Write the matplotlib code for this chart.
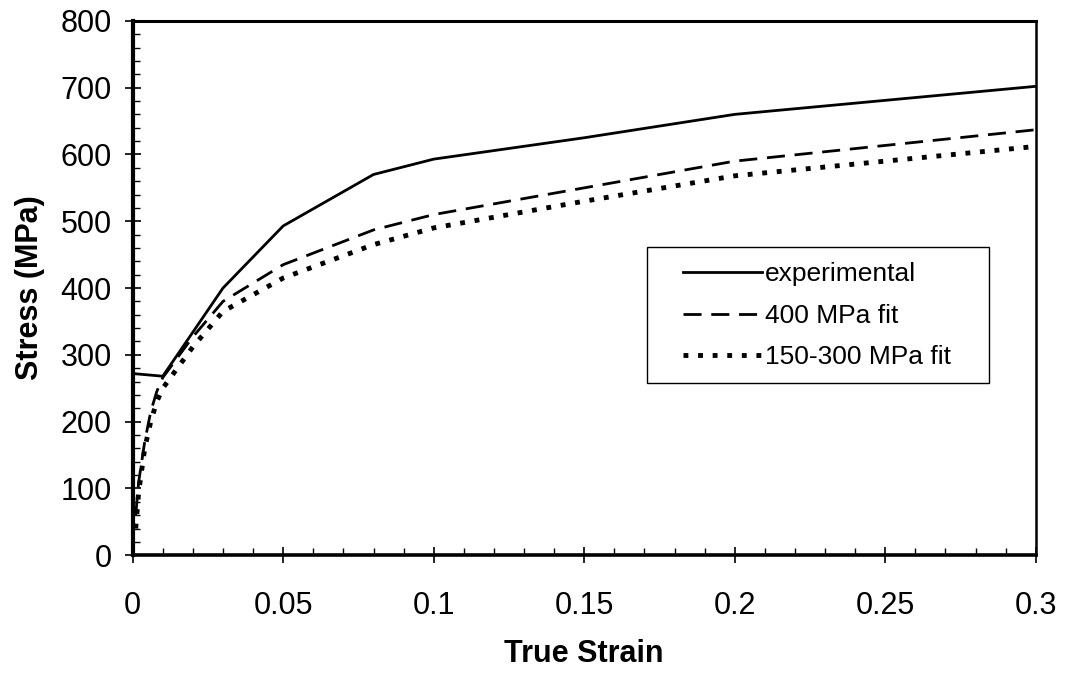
import numpy as np
import matplotlib.pyplot as plt
from matplotlib.patches import Rectangle
from matplotlib.ticker import MultipleLocator

# true strain / stress (MPa) for the measured curve and the two fits
strain_exp = [0.0, 0.01, 0.03, 0.05, 0.08, 0.1, 0.15, 0.2, 0.3]
stress_exp = [272, 268, 400, 493, 570, 593, 625, 660, 702]

strain_400 = [0.001, 0.002, 0.004, 0.006, 0.008, 0.01, 0.02, 0.03, 0.05, 0.08, 0.1, 0.15, 0.2, 0.3]
stress_400 = [60, 110, 170, 215, 245, 266, 327, 380, 435, 487, 510, 550, 590, 637]

strain_fit = [0.001, 0.002, 0.004, 0.006, 0.008, 0.01, 0.02, 0.03, 0.05, 0.08, 0.1, 0.15, 0.2, 0.3]
stress_fit = [40, 95, 160, 200, 230, 250, 312, 365, 415, 465, 490, 530, 568, 612]

x_ticks = [0, 0.05, 0.1, 0.15, 0.2, 0.25, 0.3]
x_labels = ['0', '0.05', '0.1', '0.15', '0.2', '0.25', '0.3']

plt.rcParams['font.family'] = ['Liberation Sans', 'DejaVu Sans']

fig = plt.figure(figsize=(10.7, 6.73), dpi=100)
ax = fig.add_axes([0.124, 0.175, 0.844, 0.794])

ax.plot(strain_exp, stress_exp, color='black', lw=2.0, label='experimental')
ax.plot(strain_400, stress_400, color='black', lw=2.0, dashes=(6.5, 3.5), label='400 MPa fit')
ax.plot(strain_fit, stress_fit, color='black', lw=3.5, dashes=(1.0, 2.0), label='150-300 MPa fit')

ax.set_xlim(0, 0.3)
ax.set_ylim(0, 800)
ax.set_xticks(x_ticks)
ax.set_xticklabels(x_labels)
ax.xaxis.set_minor_locator(MultipleLocator(0.01))
ax.yaxis.set_major_locator(MultipleLocator(100))
ax.yaxis.set_minor_locator(MultipleLocator(20))

ax.tick_params(axis='both', which='major', direction='inout', length=12, width=1.2, labelsize=22)
ax.tick_params(axis='x', which='major', pad=20)
ax.tick_params(axis='y', which='major', pad=9)
ax.tick_params(axis='both', which='minor', direction='in', length=5, width=1.0)

ax.spines['left'].set_linewidth(3.0)
ax.spines['bottom'].set_linewidth(2.6)
ax.spines['top'].set_linewidth(2.2)
ax.spines['right'].set_linewidth(1.8)

ax.set_xlabel('True Strain', fontsize=22, fontweight='bold', labelpad=13)
ax.set_ylabel('Stress (MPa)', fontsize=22, fontweight='bold', labelpad=11)

# legend box drawn separately so the entries can sit inset from its left edge
ax.add_patch(Rectangle((0.569, 0.322), 0.379, 0.255, transform=ax.transAxes,
                       fill=False, edgecolor='black', lw=1.0, zorder=4))
ax.legend(loc='upper left', bbox_to_anchor=(0.609, 0.548), fontsize=19,
          frameon=False, borderpad=0, borderaxespad=0, handlelength=3.0,
          labelspacing=0.66, handletextpad=0.12)

fig.savefig('out.png', dpi=100)
